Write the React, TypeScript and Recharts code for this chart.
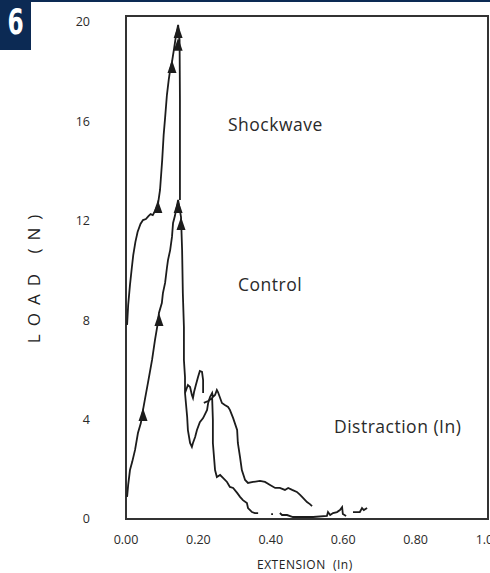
import React from 'react'
import {
  ComposedChart,
  Line,
  Scatter,
  XAxis,
  YAxis,
  ReferenceArea,
} from 'recharts'

// values: extension (in) vs load (N)
const shockX = [0.003, 0.006, 0.011, 0.016, 0.02, 0.026, 0.032, 0.04, 0.047, 0.055, 0.062, 0.068, 0.074, 0.08, 0.088, 0.094, 0.1, 0.104, 0.108, 0.113, 0.118, 0.122, 0.127, 0.133, 0.138, 0.144, 0.148, 0.149, 0.149, 0.149]
const shockY = [7.81, 8.61, 9.42, 10.1, 10.62, 11.15, 11.55, 11.87, 12.03, 12.07, 12.19, 12.27, 12.23, 12.39, 12.64, 13.24, 14.45, 15.45, 16.14, 17.06, 17.67, 18.07, 18.39, 18.95, 19.44, 19.88, 19.28, 16.86, 14.45, 12.84]

const controlX = [0.003, 0.006, 0.011, 0.017, 0.025, 0.033, 0.041, 0.047, 0.052, 0.061, 0.072, 0.08, 0.088, 0.091, 0.099, 0.102, 0.108, 0.113, 0.116, 0.122, 0.127, 0.13, 0.135, 0.144, 0.152, 0.155, 0.157, 0.16, 0.16, 0.163, 0.163, 0.171, 0.177, 0.182, 0.185, 0.188, 0.193, 0.199, 0.204, 0.21, 0.213, 0.213]
const controlY = [0.89, 1.37, 1.97, 2.29, 2.78, 3.46, 3.86, 4.39, 4.79, 5.51, 6.4, 7.2, 7.89, 8.29, 8.69, 9.09, 9.5, 10.1, 10.42, 10.82, 11.35, 11.91, 12.19, 12.84, 12.15, 10.82, 9.09, 7.73, 6.4, 5.71, 5.07, 5.39, 5.31, 4.99, 4.87, 5.11, 5.39, 5.71, 5.96, 5.92, 5.59, 5.07]

const distractX = [0.163, 0.169, 0.171, 0.177, 0.182, 0.185, 0.191, 0.196, 0.204, 0.213, 0.224, 0.227, 0.232, 0.238, 0.24, 0.246, 0.251, 0.254, 0.26, 0.265, 0.273, 0.282, 0.287, 0.296, 0.307, 0.309, 0.315, 0.32, 0.329, 0.337, 0.351, 0.37, 0.384, 0.398, 0.412, 0.425, 0.439, 0.448, 0.459, 0.472, 0.481, 0.489, 0.5, 0.508, 0.514]
const distractY = [5.07, 4.1, 3.58, 3.06, 2.9, 3.06, 3.3, 3.58, 3.9, 4.06, 4.39, 4.67, 4.91, 5.07, 4.91, 4.99, 5.19, 5.11, 4.87, 4.67, 4.59, 4.51, 4.39, 4.06, 3.58, 3.06, 2.49, 1.97, 1.57, 1.45, 1.49, 1.53, 1.49, 1.37, 1.25, 1.25, 1.17, 1.25, 1.17, 1.09, 0.97, 0.85, 0.68, 0.6, 0.52]

// lower tail, null = gap in the trace
const tailX = [0.215, 0.227, 0.238, 0.24, 0.24, 0.246, 0.251, 0.26, 0.268, 0.279, 0.287, 0.296, 0.307, 0.315, 0.323, 0.334, 0.337, 0.348, 0.356, 0.365, 0.38, 0.401, 0.406, 0.415, 0.425, 0.431, 0.445, 0.461, 0.517, 0.555, 0.558, 0.564, 0.572, 0.583, 0.591, 0.597, 0.599, 0.608, 0.618, 0.627, 0.646, 0.652, 0.657, 0.666]
const tailY = [4.67, 4.75, 4.87, 3.98, 3.06, 1.97, 1.69, 1.77, 1.65, 1.49, 1.29, 1.25, 1.05, 0.89, 0.76, 0.64, 0.44, 0.28, 0.24, 0.24, null, 0.2, 0.2, null, 0.24, 0.16, 0.16, 0.08, 0.08, 0.12, 0.28, 0.16, 0.24, 0.28, 0.36, 0.48, 0.2, 0.12, null, 0.28, 0.28, 0.44, 0.36, 0.44]

// arrow heads (tip positions)
const arrowX = [0.144, 0.144, 0.127, 0.088, 0.144, 0.152, 0.091, 0.047]
const arrowY = [19.88, 19.36, 18.47, 12.84, 12.84, 12.15, 8.29, 4.47]

const xTicks = [0, 0.2, 0.4, 0.6, 0.8, 1.0]
const yTicks = [0, 4, 8, 12, 16, 20]

const zip = (xs: number[], ys: (number | null)[]) => xs.map((x, i) => ({ x, y: ys[i] }))

const shockData = zip(shockX, shockY)
const controlData = zip(controlX, controlY)
const distractData = zip(distractX, distractY)
const tailData = zip(tailX, tailY)
const arrowData = zip(arrowX, arrowY)

const FONT = '"Open Sans", "Liberation Sans", sans-serif'
const NAVY = '#0c2a54'
const INK = '#1c1c1c'

const Arrow = (props: any) => {
  const { cx, cy } = props
  if (cx == null || cy == null) return null
  return <polygon points={`${cx},${cy} ${cx - 4.5},${cy + 13} ${cx + 4.5},${cy + 13}`} fill={INK} />
}

// plain centred tick, no edge nudging (the last one runs off the page like the original)
const XTick = (props: any) => {
  const { x, y, payload } = props
  return (
    <text x={x} y={y} dy="0.71em" textAnchor="middle" fill="#2a2a2a" fontSize={12.5} fontFamily={FONT}>
      {Number(payload.value).toFixed(2)}
    </text>
  )
}

const label = (text: string, left: number, top: number) => (
  <div
    style={{
      position: 'absolute',
      left,
      top,
      fontFamily: FONT,
      fontSize: 17.5,
      letterSpacing: 0.5,
      lineHeight: 1,
      color: '#2a2a2a',
      whiteSpace: 'nowrap',
    }}
  >
    {text}
  </div>
)

export default function App() {
  return (
    <div
      style={{
        position: 'absolute',
        left: 0,
        top: 0,
        width: 490,
        height: 573,
        overflow: 'hidden',
        background: '#fff',
      }}
    >
      {/* top rule and figure badge */}
      <div style={{ position: 'absolute', left: 0, top: 0, width: 490, height: 2, background: NAVY }} />
      <div style={{ position: 'absolute', left: 0, top: 0, width: 31, height: 50, background: NAVY }}>
        <div
          style={{
            position: 'absolute',
            left: 0,
            top: 4,
            width: 31,
            textAlign: 'center',
            color: '#fff',
            fontFamily: '"DejaVu Sans Condensed", "DejaVu Sans", sans-serif',
            fontWeight: 'bold',
            fontSize: 36,
            lineHeight: 1,
            transform: 'scaleX(0.72)',
          }}
        >
          6
        </div>
      </div>

      <ComposedChart
        width={490}
        height={573}
        margin={{ top: 16, right: 2, bottom: 0, left: 0 }}
        style={{ position: 'absolute', left: 0, top: 0 }}
      >
        <XAxis
          dataKey="x"
          type="number"
          domain={[0, 1]}
          ticks={xTicks}
          height={54}
          tickSize={0}
          tickMargin={16}
          axisLine={false}
          tick={XTick}
          interval={0}
          allowDataOverflow
        />
        <YAxis
          dataKey="y"
          type="number"
          domain={[0, 20.24]}
          ticks={yTicks}
          width={126}
          tickSize={0}
          tickMargin={36}
          axisLine={false}
          tick={{ fill: '#2a2a2a', fontSize: 12.5, fontFamily: FONT }}
          allowDataOverflow
        />
        <ReferenceArea x1={0} x2={1} y1={0} y2={20.24} fill="none" stroke="#333" strokeWidth={2} ifOverflow="visible" />

        <Line data={shockData} dataKey="y" type="linear" stroke={INK} strokeWidth={1.8} dot={false} isAnimationActive={false} />
        <Line data={controlData} dataKey="y" type="linear" stroke={INK} strokeWidth={1.8} dot={false} isAnimationActive={false} />
        <Line data={distractData} dataKey="y" type="linear" stroke={INK} strokeWidth={1.8} dot={false} isAnimationActive={false} />
        <Line data={tailData} dataKey="y" type="linear" stroke={INK} strokeWidth={1.8} dot={false} connectNulls={false} isAnimationActive={false} />
        <Scatter data={arrowData} dataKey="y" shape={Arrow} isAnimationActive={false} />
      </ComposedChart>

      {label('Shockwave', 228, 116)}
      {label('Control', 238, 276)}
      {label('Distraction (In)', 334, 418)}

      <div
        style={{
          position: 'absolute',
          left: 33,
          top: 275,
          transform: 'translate(-50%, -50%) rotate(-90deg)',
          fontFamily: FONT,
          fontSize: 17,
          letterSpacing: 8,
          lineHeight: 1,
          color: '#222',
          whiteSpace: 'nowrap',
        }}
      >
        LOAD (N)
      </div>
      <div
        style={{
          position: 'absolute',
          left: 257,
          top: 559,
          fontFamily: FONT,
          fontSize: 12,
          letterSpacing: 0.5,
          lineHeight: 1,
          color: '#222',
          whiteSpace: 'nowrap',
        }}
      >
        EXTENSION&nbsp;&nbsp;(In)
      </div>
    </div>
  )
}
